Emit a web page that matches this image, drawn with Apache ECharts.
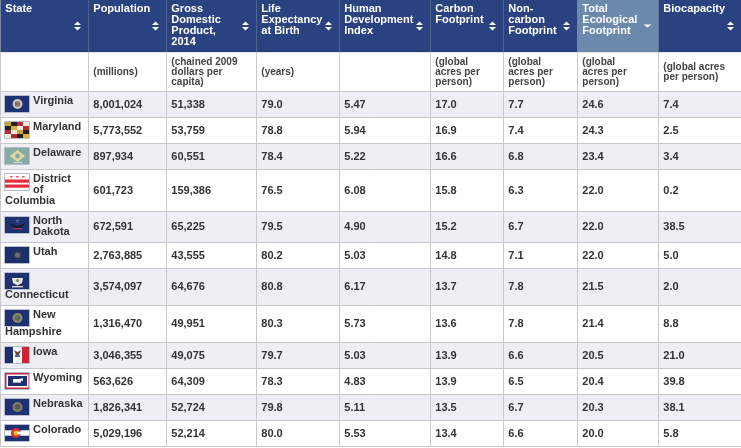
<!DOCTYPE html>
<html>
<head>
<meta charset="utf-8">
<style>
    html, body { margin: 0; padding: 0; background: #fff; }
    #chart { width: 741px; height: 448px; }
</style>
<script src="https://cdn.jsdelivr.net/npm/echarts@6/dist/echarts.min.js"></script>
</head>
<body>
<div id="chart"></div>
<script>
// table content
const headers = [
    ['State'],
    ['Population'],
    ['Gross', 'Domestic', 'Product,', '2014'],
    ['Life', 'Expectancy', 'at Birth'],
    ['Human', 'Development', 'Index'],
    ['Carbon', 'Footprint'],
    ['Non-', 'carbon', 'Footprint'],
    ['Total', 'Ecological', 'Footprint'],
    ['Biocapacity']
];
const units = [
    [],
    ['(millions)'],
    ['(chained 2009', 'dollars per', 'capita)'],
    ['(years)'],
    [],
    ['(global', 'acres per', 'person)'],
    ['(global', 'acres per', 'person)'],
    ['(global', 'acres per', 'person)'],
    ['(global acres', 'per person)']
];
const states = [
    ['Virginia'], ['Maryland'], ['Delaware'], ['District', 'of', 'Columbia'],
    ['North', 'Dakota'], ['Utah'], ['Connecticut'], ['New', 'Hampshire'],
    ['Iowa'], ['Wyoming'], ['Nebraska'], ['Colorado']
];
const population = [8001024, 5773552, 897934, 601723, 672591, 2763885, 3574097, 1316470, 3046355, 563626, 1826341, 5029196];
const gdp = [51338, 53759, 60551, 159386, 65225, 43555, 64676, 49951, 49075, 64309, 52724, 52214];
const lifeExpectancy = [79.0, 78.8, 78.4, 76.5, 79.5, 80.2, 80.8, 80.3, 79.7, 78.3, 79.8, 80.0];
const hdi = [5.47, 5.94, 5.22, 6.08, 4.90, 5.03, 6.17, 5.73, 5.03, 4.83, 5.11, 5.53];
const carbon = [17.0, 16.9, 16.6, 15.8, 15.2, 14.8, 13.7, 13.6, 13.9, 13.9, 13.5, 13.4];
const nonCarbon = [7.7, 7.4, 6.8, 6.3, 6.7, 7.1, 7.8, 7.8, 6.6, 6.5, 6.7, 6.6];
const totalFootprint = [24.6, 24.3, 23.4, 22.0, 22.0, 22.0, 21.5, 21.4, 20.5, 20.4, 20.3, 20.0];
const biocapacity = [7.4, 2.5, 3.4, 0.2, 38.5, 5.0, 2.0, 8.8, 21.0, 39.8, 38.1, 5.8];

// layout, in axis units (the axes run 0-741 and 0-448)
const colEdges = [0.5, 88.5, 166.5, 256.5, 339.5, 430.5, 503.5, 577.5, 658.5, 742];
const headerBottom = 52;
const unitsBottom = 91.5;
const rowEdges = [91.5, 117.5, 143.5, 169.5, 211.5, 242.5, 268.5, 305.5, 342.5, 368.5, 394.5, 420.5, 446.5];
const arrowX = [77.5, 155.5, 245.5, 328.5, 419.5, 492.5, 566.5, 647.5, 730.5];
const flagTop = [96, 122, 148, 174, 217, 247, 273, 310, 347, 373, 399, 425];
const stateLineX = [[33], [33], [33], [33, 33, 5], [33, 33], [33], [5], [33, 5], [33], [33], [33], [33]];
const stateLineY = [[101], [127], [153], [179, 190, 201], [221, 232], [252], [295], [315, 332], [352], [378], [404], [430]];
const sortedCol = 7;

const NAVY = '#2a4280';
const SORTED = '#6a89ad';
const LINE = '#c9c9c9';
const STRIPE = '#efeef5';
const TEXT = '#333';
const FONT = 'bold 11px "Liberation Sans", Arial, sans-serif';
const UNIT_FONT = 'bold 10px "Liberation Sans", Arial, sans-serif';

const fmtInt = v => v.toLocaleString('en-US');
const columns = [
    null,
    population.map(fmtInt),
    gdp.map(fmtInt),
    lifeExpectancy.map(v => v.toFixed(1)),
    hdi.map(v => v.toFixed(2)),
    carbon.map(v => v.toFixed(1)),
    nonCarbon.map(v => v.toFixed(1)),
    totalFootprint.map(v => v.toFixed(1)),
    biocapacity.map(v => v.toFixed(1))
];

// flags: small shapes in a 25x16 box
const r = (x, y, w, h, fill) => ['rect', x, y, w, h, fill];
const c = (x, y, rad, fill) => ['circle', x, y, rad, fill];
const p = (points, fill) => ['poly', points, fill];
const seal = (a, b) => [r(0, 0, 25, 16, '#1d3173'), c(12.5, 8, 5, a), c(12.5, 8, 2.8, b)];
const flags = [
    seal('#c9c5bd', '#8a6f68'),
    [r(0, 0, 25, 16, '#e6e0d0'), r(0, 0, 6, 4, '#c9a233'), r(6, 0, 6, 4, '#26221a'), r(12, 0, 6, 4, '#b32a3a'), r(18, 0, 7, 4, '#efeae0'),
        r(0, 4, 6, 4, '#26221a'), r(6, 4, 6, 4, '#d6b040'), r(12, 4, 6, 4, '#efeae0'), r(18, 4, 7, 4, '#b32a3a'),
        r(0, 8, 6, 4, '#b32a3a'), r(6, 8, 6, 4, '#efeae0'), r(12, 8, 6, 4, '#c9a233'), r(18, 8, 7, 4, '#26221a'),
        r(0, 12, 6, 4, '#efeae0'), r(6, 12, 6, 4, '#b32a3a'), r(12, 12, 6, 4, '#26221a'), r(18, 12, 7, 4, '#d6b040')],
    [r(0, 0, 25, 16, '#86aca4'), p([[12.5, 2], [20, 8], [12.5, 14], [5, 8]], '#dcd9a6'), c(12.5, 8, 2.4, '#8aa890'), r(8, 14, 9, 1, '#d5dcc8')],
    [r(0, 0, 25, 16, '#ffffff'), r(0, 5.5, 25, 3.2, '#e22c3c'), r(0, 10.5, 25, 3.2, '#e22c3c'), r(5, 2, 2.6, 1.6, '#e8606c'), r(11, 2, 2.6, 1.6, '#e8606c'), r(17, 2, 2.6, 1.6, '#e8606c')],
    [r(0, 0, 25, 16, '#1d3173'), p([[4, 6], [12.5, 9], [21, 6], [15, 12], [10, 12]], '#141c3a'), r(8, 11, 9, 1.2, '#b33a3a'), c(12.5, 4, 1.8, '#3f5aa0')],
    [r(0, 0, 25, 16, '#1c2f6b'), c(12.5, 8, 5, '#2c3553'), c(12.5, 8, 2.6, '#6a6f7e')],
    [r(0, 0, 25, 16, '#1d3173'), p([[7, 5], [18, 5], [17, 10], [12.5, 12.5], [8, 10]], '#e8e6d8'), r(7, 13, 11, 1.4, '#d8d6c8'), c(12.5, 7.5, 1.6, '#7a8a6a')],
    seal('#8a8a6a', '#5a6a5a'),
    [r(0, 0, 8, 16, '#1c2f6b'), r(8, 0, 9, 16, '#ffffff'), r(17, 0, 8, 16, '#cf2336'), p([[9, 3], [12.5, 5], [16, 3], [14, 8], [11, 8]], '#6b4a32'), r(10, 8, 5, 2, '#5a6aa0')],
    [r(0, 0, 25, 16, '#c8283c'), r(1.5, 1.5, 22, 13, '#ffffff'), r(3, 3, 19, 10, '#1d3173'), r(8, 6, 8, 3.6, '#ffffff'), r(15.5, 5.4, 2.4, 2.4, '#ffffff')],
    seal('#7f8062', '#4f5a50'),
    [r(0, 0, 25, 16, '#1d3173'), r(0, 5.3, 25, 5.4, '#ffffff'), c(11, 8, 5, '#d92c34'), c(11, 8, 2.5, '#f2c230'), r(12.5, 6.6, 5, 2.8, '#ffffff')]
];

function flagShapes(api, row) {
    const [x0, y0] = api.coord([5, flagTop[row]]);
    const shapes = flags[row].map(s => {
        if (s[0] === 'rect') {
            return { type: 'rect', shape: { x: x0 + s[1], y: y0 + s[2], width: s[3], height: s[4] }, style: { fill: s[5] } };
        }
        if (s[0] === 'circle') {
            return { type: 'circle', shape: { cx: x0 + s[1], cy: y0 + s[2], r: s[3] }, style: { fill: s[4] } };
        }
        return { type: 'polygon', shape: { points: s[1].map(pt => [x0 + pt[0], y0 + pt[1]]) }, style: { fill: s[2] } };
    });
    shapes.push({ type: 'rect', shape: { x: x0 - 0.5, y: y0 - 0.5, width: 25, height: 17 }, style: { fill: 'none', stroke: '#b9bcc9', lineWidth: 1 } });
    return shapes;
}

function textEl(api, x, y, text, font, fill) {
    const pt = api.coord([x, y]);
    return { type: 'text', style: { x: pt[0], y: pt[1], text, font, fill, align: 'left', verticalAlign: 'middle' } };
}

function box(api, x1, y1, x2, y2, fill) {
    const a = api.coord([x1, y1]);
    const b = api.coord([x2, y2]);
    return { type: 'rect', shape: { x: a[0], y: a[1], width: b[0] - a[0], height: b[1] - a[1] }, style: { fill } };
}

function renderColumnHead(params, api) {
    const col = api.value(0);
    const x1 = colEdges[col];
    const x2 = colEdges[col + 1];
    const children = [box(api, x1, 0, x2, headerBottom, col === sortedCol ? SORTED : NAVY)];
    headers[col].forEach((line, i) => {
        children.push(textEl(api, x1 + 4.8, 9 + i * 11, line, FONT, '#fff'));
    });
    const lines = units[col];
    const top = 72 - (lines.length - 1) * 5;
    lines.forEach((line, i) => {
        children.push(textEl(api, x1 + 4.8, top + i * 10, line, UNIT_FONT, '#444'));
    });
    // sort arrows
    const [ax, ay] = api.coord([arrowX[col], 26]);
    if (col === sortedCol) {
        children.push({ type: 'polygon', shape: { points: [[ax - 4, ay - 1.5], [ax + 4, ay - 1.5], [ax, ay + 1.5]] }, style: { fill: '#fff' } });
    } else {
        children.push({ type: 'polygon', shape: { points: [[ax - 3.5, ay - 1], [ax + 3.5, ay - 1], [ax, ay - 4.5]] }, style: { fill: '#fff' } });
        children.push({ type: 'polygon', shape: { points: [[ax - 3.5, ay + 1], [ax + 3.5, ay + 1], [ax, ay + 4.5]] }, style: { fill: '#fff' } });
    }
    return { type: 'group', children };
}

function renderRow(params, api) {
    const row = api.value(0);
    const y1 = rowEdges[row];
    const y2 = rowEdges[row + 1];
    const children = [];
    if (row % 2 === 0) {
        children.push(box(api, colEdges[0], y1, colEdges[9], y2, STRIPE));
    }
    flagShapes(api, row).forEach(s => children.push(s));
    states[row].forEach((line, i) => {
        children.push(textEl(api, stateLineX[row][i], stateLineY[row][i], line, FONT, TEXT));
    });
    for (let col = 1; col < columns.length; col++) {
        children.push(textEl(api, colEdges[col] + 4.8, (y1 + y2) / 2, columns[col][row], FONT, TEXT));
    }
    return { type: 'group', children };
}

function renderRules(params, api) {
    const children = [];
    const rule = (x1, y1, x2, y2) => {
        const a = api.coord([x1, y1]);
        const b = api.coord([x2, y2]);
        children.push({ type: 'line', shape: { x1: a[0], y1: a[1], x2: b[0], y2: b[1] }, style: { stroke: LINE, lineWidth: 1 } });
    };
    colEdges.slice(0, 9).forEach(x => rule(x, 0, x, 446.5));
    [headerBottom, unitsBottom].concat(rowEdges.slice(1)).forEach(y => rule(0, y, 741, y));
    return { type: 'group', children };
}

const chart = echarts.init(document.getElementById('chart'));
chart.setOption({
    animation: false,
    backgroundColor: '#fff',
    grid: { left: 0, right: 0, top: 0, bottom: 0 },
    xAxis: { type: 'value', min: 0, max: 741, show: false },
    yAxis: { type: 'value', min: 0, max: 448, inverse: true, show: false },
    series: [
        { type: 'custom', silent: true, clip: false, renderItem: renderRow, data: states.map((s, i) => [i]), encode: { x: 0 }, z: 1 },
        { type: 'custom', silent: true, clip: false, renderItem: renderRules, data: [[0]], encode: { x: 0 }, z: 2 },
        { type: 'custom', silent: true, clip: false, renderItem: renderColumnHead, data: headers.map((h, i) => [i]), encode: { x: 0 }, z: 3 }
    ]
});
window.addEventListener('resize', () => chart.resize());
</script>
</body>
</html>
